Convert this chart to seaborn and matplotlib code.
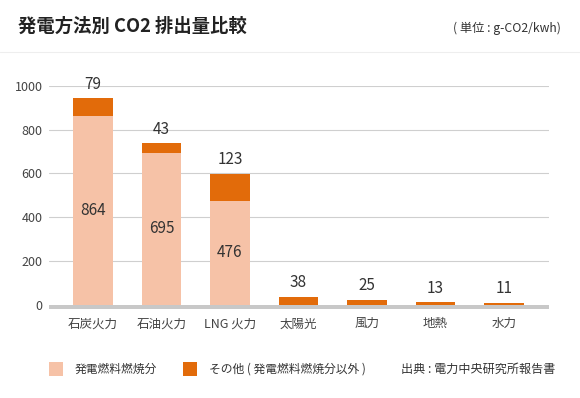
import matplotlib
matplotlib.use("Agg")
import matplotlib.pyplot as plt
import seaborn as sns
import pandas as pd
from matplotlib.patches import Rectangle
from matplotlib.lines import Line2D

categories = ["石炭火力", "石油火力", "LNG 火力", "太陽光", "風力", "地熱", "水力"]
fuel = [864, 695, 476, 0, 0, 0, 0]
other = [79, 43, 123, 38, 25, 13, 11]
yticks = [0, 200, 400, 600, 800, 1000]

title = "発電方法別 CO2 排出量比較"
unit = "( 単位 : g-CO2/kwh)"
legend_labels = ["発電燃料燃焼分", "その他 ( 発電燃料燃焼分以外 )"]
source = "出典 : 電力中央研究所報告書"

C_FUEL = "#F6C2A7"
C_OTHER = "#E26B0A"
C_BASE = "#C8C8C8"
C_GRID = "#CFCFCF"
C_TXT = "#444444"

sns.set_style("white")
plt.rcParams["font.family"] = ["Noto Sans CJK JP", "DejaVu Sans"]

df = pd.DataFrame({"cat": categories, "fuel": fuel, "other": other})
df["total"] = df["fuel"] + df["other"]

W, H = 580, 398
fig = plt.figure(figsize=(W / 100, H / 100), dpi=100)
fig.patch.set_facecolor("white")

# axes: x 49..549 px, y 1000 at 85.7px, -18 at 309px
ymin, ymax = -18, 1000
top_px, bot_px = 85.7, 309.0
ax = fig.add_axes([49 / W, 1 - bot_px / H, 500 / W, (bot_px - top_px) / H])

sns.barplot(data=df, x="cat", y="total", color=C_OTHER, saturation=1,
            width=0.58, errorbar=None, ax=ax, zorder=3, linewidth=0, edgecolor="none")
sns.barplot(data=df, x="cat", y="fuel", color=C_FUEL, saturation=1,
            width=0.58, errorbar=None, ax=ax, zorder=3, linewidth=0, edgecolor="none")

ax.set_ylim(ymin, ymax)
ax.set_xlim(-0.642, 6.657)
ax.set_yticks(yticks)
ax.set_yticklabels([str(v) for v in yticks])
for y in yticks[1:]:
    ax.axhline(y, color=C_GRID, lw=0.8, zorder=1)
ax.axhspan(ymin, 0, color=C_BASE, lw=0, zorder=4)
for s in ax.spines.values():
    s.set_visible(False)
ax.tick_params(axis="both", length=0, colors=C_TXT, labelsize=9)
ax.tick_params(axis="y", pad=4.5)
ax.tick_params(axis="x", pad=6)
ax.set_xlabel("")
ax.set_ylabel("")

for i, (f, o) in enumerate(zip(fuel, other)):
    if f > 0:
        ax.text(i, f / 2, str(f), ha="center", va="center", fontsize=11,
                color="#333333", zorder=5)
    ax.annotate(str(o), xy=(i, f + o), xytext=(0, 10), textcoords="offset points",
                ha="center", va="center", fontsize=11, color="#333333")

# header
fig.text(18 / W, 1 - 26 / H, title, fontsize=13.2, fontweight="bold",
         color="#222222", ha="left", va="center")
fig.text(561 / W, 1 - 28 / H, unit, fontsize=8.8, color="#333333",
         ha="right", va="center")
fig.add_artist(Line2D([0, 1], [1 - 52 / H, 1 - 52 / H], transform=fig.transFigure,
                      color="#EEEEEE", lw=0.8))

# legend
ly = 1 - 369 / H
for x0, col, lab in [(49, C_FUEL, legend_labels[0]), (183, C_OTHER, legend_labels[1])]:
    fig.add_artist(Rectangle((x0 / W, ly - 7 / H), 14 / W, 14 / H,
                             transform=fig.transFigure, color=col, lw=0))
    fig.text((x0 + 26) / W, ly, lab, fontsize=8.5, color="#333333",
             ha="left", va="center")
fig.text(555 / W, ly, source, fontsize=8.7, color="#333333", ha="right", va="center")

fig.savefig("out.png", dpi=100, facecolor="white")
